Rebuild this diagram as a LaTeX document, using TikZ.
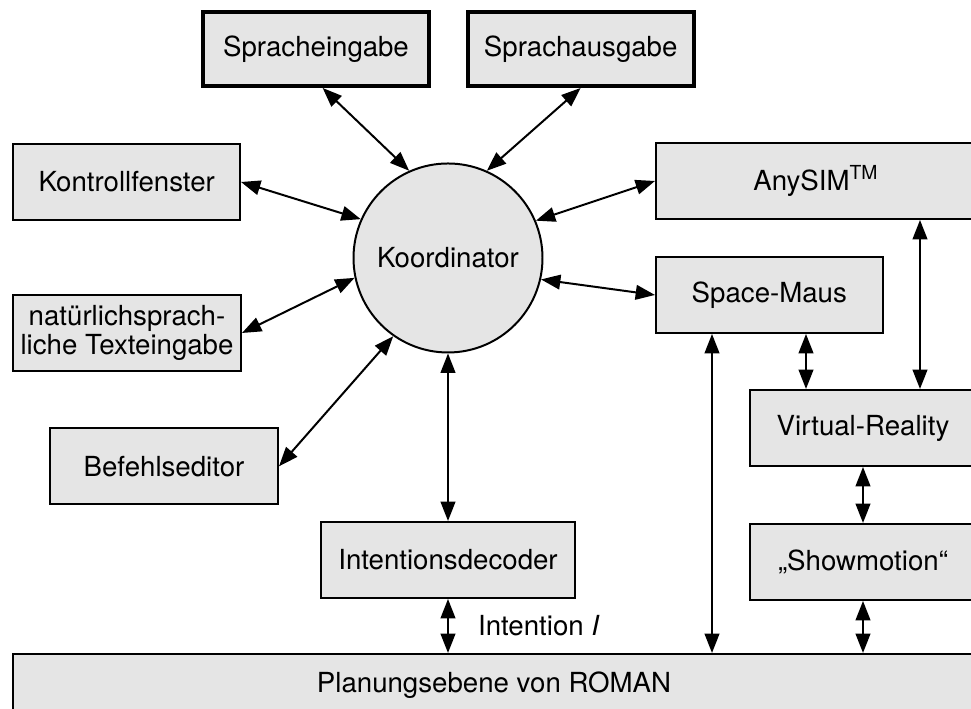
\documentclass[tikz,border=0pt]{standalone}
\usepackage{fontspec}
\setmainfont{TeX Gyre Heros}
\usetikzlibrary{arrows.meta, positioning}
\definecolor{boxgray}{RGB}{229,229,229}

\begin{document}
\begin{tikzpicture}[
    node distance=0.84cm and 1cm,
    block/.style={rectangle, draw, fill=boxgray, line width=0.85pt, minimum width=3.42cm, minimum height=1.14cm,
                  inner xsep=2pt, align=center, font=\fontsize{11.8}{12.4}\selectfont},
    speech/.style={block, line width=1.7pt, minimum width=3.39cm, minimum height=1.11cm},
    koord/.style={circle, draw, fill=boxgray, line width=0.85pt, minimum size=2.835cm, font=\fontsize{11.8}{12.4}\selectfont},
    conn/.style={{Triangle[length=2.9mm, width=2.2mm]}-{Triangle[length=2.9mm, width=2.2mm]}, line width=0.85pt}
]
\useasboundingbox (0,0) rectangle (14.565,10.635);
\clip (0,0) rectangle (14.565,10.635);

% Koordinator in der Mitte
\node[koord] (koord) at (6.72,6.765) {Koordinator};

% Sprachein- und -ausgabe
\node[speech] (spein) at (4.74,9.90) {Spracheingabe};
\node[speech] (spaus) at (8.71,9.90) {Sprachausgabe};

% Eingabekomponenten links
\node[block, minimum width=3.40cm] (kontroll) at (1.90,7.905) {Kontrollfenster};
\node[block] (text) at (1.905,5.64) {natürlichsprach-\\liche Texteingabe};
\node[block] (befehl) at (2.46,3.64) {Befehlseditor};

% Rechte Seite
\node[block, minimum width=4.8cm] (anysim) at (12.24,7.92) {AnySIM\textsuperscript{TM}};
\node[block, minimum width=3.40cm] (maus) at (11.54,6.21) {Space-Maus};
\node[block, minimum width=3.39cm] (vr) at (12.945,4.215) {Virtual-Reality};
\node[block, minimum width=3.39cm, below=of vr] (show) {„Showmotion“};

% Decoder und Planungsebene
\node[block, minimum width=3.81cm] (intent) at (6.72,2.235) {Intentionsdecoder};
\node[block, minimum width=14.43cm, minimum height=0.93cm] (plan) at (7.41,0.36) {Planungsebene von ROMAN};

% Verbindungen zum Koordinator
\draw[conn] ([xshift=0.1cm]spein.south) -- (koord.114);
\draw[conn] (spaus.south) -- (koord.66);
\draw[conn] (kontroll.east) -- (koord.156);
\draw[conn] (text.east) -- (koord.192);
\draw[conn] (befehl.east) -- (koord.235);
\draw[conn] (anysim.west) -- (koord.23);
\draw[conn] (maus.west) -- (koord.-13);
\draw[conn] (koord.south) -- (intent.north);

% Senkrechte Verbindungen rechts
\coordinate (mausfoot) at ([xshift=0.855cm]maus.south west);
\coordinate (vrleft) at ([xshift=-0.855cm]vr.north);
\coordinate (vrright) at ([xshift=0.855cm]vr.north);
\draw[conn] (mausfoot) -- (mausfoot |- plan.north);
\draw[conn] (maus.south -| vrleft) -- (vrleft);
\draw[conn] (anysim.south -| vrright) -- (vrright);
\draw[conn] (vr.south) -- (show.north);
\draw[conn] (show.south) -- (show.south |- plan.north);

% Intention an die Planungsebene
\draw[conn] (intent.south) -- node[midway, right=0.32cm, font=\fontsize{11.8}{12.4}\selectfont] {Intention \textit{I}} (intent.south |- plan.north);

\end{tikzpicture}
\end{document}
